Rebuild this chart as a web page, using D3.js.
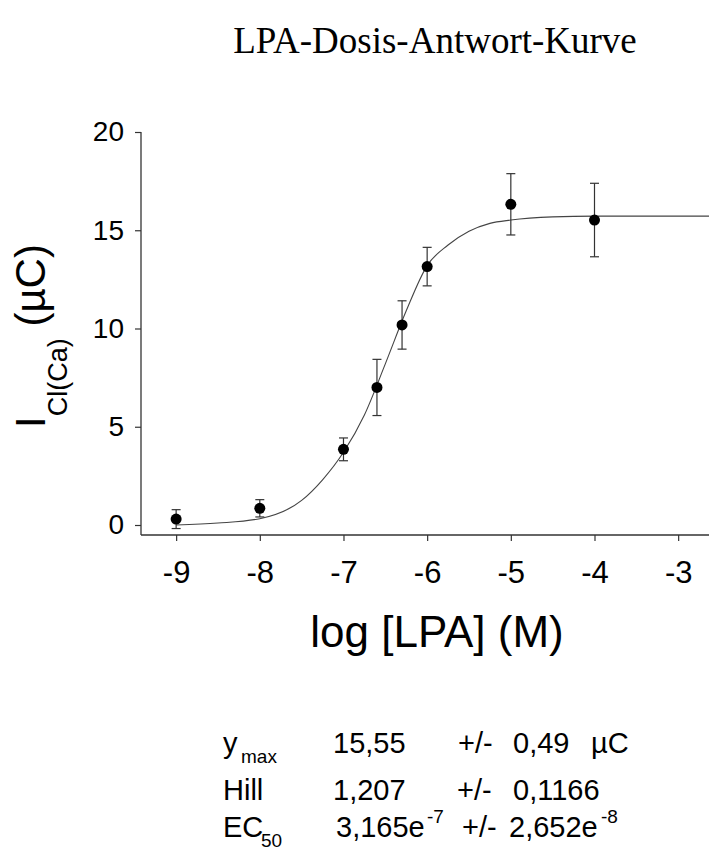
<!DOCTYPE html>
<html>
<head>
<meta charset="utf-8">
<script src="https://cdn.jsdelivr.net/npm/d3@7"></script>
<style>
    body { margin: 0; background: #fff; }
    svg { display: block; }
</style>
</head>
<body>
<script>
// measured points (log conc, mean charge, error)
let logConc = [-9, -8, -7, -6.6, -6.3, -6, -5, -4];
let meanQ = [0.3, 0.85, 3.85, 7.0, 10.18, 13.15, 16.32, 15.52];
let errQ = [0.48, 0.44, 0.58, 1.43, 1.23, 0.98, 1.56, 1.87];

// fitted curve
let fitX = [-9, -8.5, -8, -7.5, -7.25, -7, -6.75, -6.5, -6.25, -6, -5.75, -5.5, -5.25, -5, -4.5, -4, -3, -2.5];
let fitY = [0.0, 0.1, 0.32, 1.25, 2.3, 3.7, 5.6, 8.2, 10.9, 13.2, 14.25, 14.95, 15.35, 15.52, 15.68, 15.72, 15.72, 15.72];

let xTicks = [-9, -8, -7, -6, -5, -4, -3];
let yTicks = [0, 5, 10, 15, 20];

let w = 709;
let h = 850;
let sans = 'Liberation Sans, Arial, sans-serif';
let ink = '#333';

let svg = d3.select('body').append('svg')
    .attr('width', w)
    .attr('height', h);

let x = d3.scaleLinear().domain([-9.42, -2.5]).range([141, 720]);
let y = d3.scaleLinear().domain([0, 20]).range([525, 132]);
let axisY0 = 535; // x axis sits a bit below zero

// title
svg.append('text')
    .attr('x', 435).attr('y', 53)
    .attr('text-anchor', 'middle')
    .style('font-family', 'Liberation Serif, Times New Roman, serif')
    .style('font-size', '37px')
    .text('LPA-Dosis-Antwort-Kurve');

// y axis
let gy = svg.append('g')
    .attr('transform', 'translate(141,0)')
    .call(d3.axisLeft(y).tickValues(yTicks).tickSize(6).tickPadding(11));
// x axis, plain hyphen for minus like the original
let gx = svg.append('g')
    .attr('transform', `translate(0,${axisY0})`)
    .call(d3.axisBottom(x).tickValues(xTicks).tickSize(6).tickPadding(20)
        .tickFormat(d => String(d)));

[gx, gy].forEach(g => {
    g.select('.domain').remove();
    g.selectAll('line').attr('stroke', ink).attr('stroke-width', 1.2);
    g.selectAll('text').attr('fill', '#000').style('font-family', sans);
});
gy.selectAll('text').style('font-size', '28px');
gx.selectAll('text').style('font-size', '31px').attr('dy', '0.71em');

// axis lines
svg.append('line')
    .attr('x1', 141).attr('x2', 141)
    .attr('y1', y(20)).attr('y2', axisY0)
    .attr('stroke', ink).attr('stroke-width', 1.3);
svg.append('line')
    .attr('x1', 141).attr('x2', x.range()[1])
    .attr('y1', axisY0).attr('y2', axisY0)
    .attr('stroke', ink).attr('stroke-width', 1.3);

// fit curve
let line = d3.line()
    .x((d, i) => x(fitX[i]))
    .y(d => y(d))
    .curve(d3.curveMonotoneX);
svg.append('path')
    .datum(fitY)
    .attr('d', line)
    .attr('fill', 'none')
    .attr('stroke', '#444')
    .attr('stroke-width', 1.1);

// error bars
let pts = logConc.map((c, i) => ({ c: c, m: meanQ[i], e: errQ[i] }));
let eb = svg.append('g').attr('stroke', ink).attr('stroke-width', 1.2);
eb.selectAll('.v').data(pts).enter().append('line')
    .attr('x1', d => x(d.c)).attr('x2', d => x(d.c))
    .attr('y1', d => y(d.m + d.e)).attr('y2', d => y(d.m - d.e));
['top', 'bot'].forEach(k => {
    eb.selectAll('.' + k).data(pts).enter().append('line')
        .attr('x1', d => x(d.c) - 4.5).attr('x2', d => x(d.c) + 4.5)
        .attr('y1', d => y(k == 'top' ? d.m + d.e : d.m - d.e))
        .attr('y2', d => y(k == 'top' ? d.m + d.e : d.m - d.e));
});

// points
svg.append('g').selectAll('circle').data(pts).enter().append('circle')
    .attr('cx', d => x(d.c))
    .attr('cy', d => y(d.m))
    .attr('r', 5.5)
    .attr('fill', '#000');

// axis titles
svg.append('text')
    .attr('x', 437).attr('y', 647)
    .attr('text-anchor', 'middle')
    .style('font-family', sans)
    .style('font-size', '44px')
    .text('log [LPA] (M)');

let yt = svg.append('text')
    .attr('transform', 'translate(45,336) rotate(-90)')
    .attr('text-anchor', 'middle')
    .style('font-family', sans)
    .style('font-size', '42px');
yt.append('tspan').text('I');
yt.append('tspan').attr('dy', 22).style('font-size', '27px').text('Cl(Ca)');
yt.append('tspan').attr('dy', -22).text(' (µC)');

// fit parameters
let fs = '29px';
function row(parts, base) {
    parts.forEach(p => {
        svg.append('text')
            .attr('x', p.x).attr('y', base + (p.dy || 0))
            .style('font-family', sans)
            .style('font-size', p.fs || fs)
            .text(p.t);
    });
}
row([
    { x: 223, t: 'y' },
    { x: 241, t: 'max', dy: 10, fs: '19px' },
    { x: 333, t: '15,55' },
    { x: 458, t: '+/-' },
    { x: 513, t: '0,49' },
    { x: 591, t: 'µC' }
], 753);
row([
    { x: 223, t: 'Hill' },
    { x: 333, t: '1,207' },
    { x: 457, t: '+/-' },
    { x: 513, t: '0,1166' }
], 800);
row([
    { x: 223, t: 'EC' },
    { x: 261, t: '50', dy: 10, fs: '19px' },
    { x: 336, t: '3,165e' },
    { x: 427, t: '-7', dy: -14, fs: '19px' },
    { x: 462, t: '+/-' },
    { x: 509, t: '2,652e' },
    { x: 601, t: '-8', dy: -14, fs: '19px' }
], 837);
</script>
</body>
</html>
